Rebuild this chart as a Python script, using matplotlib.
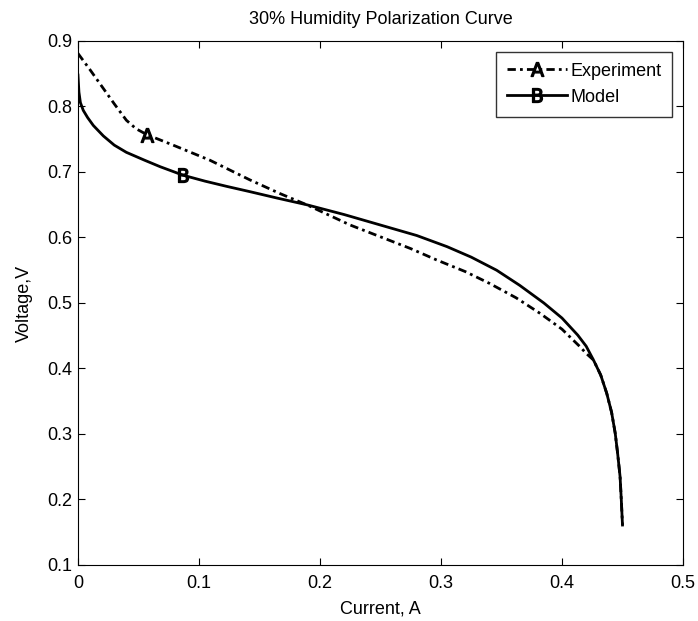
import matplotlib.pyplot as plt

plt.rcParams['font.family'] = ['Liberation Sans', 'DejaVu Sans']

# Experiment data (current A, voltage V)
exp_current = [0, 0.01, 0.02, 0.03, 0.040, 0.048, 0.057, 0.08, 0.109, 0.142, 0.167,
               0.189, 0.225, 0.250, 0.275, 0.296, 0.320, 0.340, 0.362, 0.382, 0.400,
               0.415, 0.420, 0.426, 0.432, 0.437, 0.441, 0.444, 0.446, 0.448, 0.449,
               0.450]
exp_voltage = [0.881, 0.856, 0.830, 0.804, 0.779, 0.766, 0.757, 0.740, 0.718, 0.688, 0.667,
               0.650, 0.619, 0.601, 0.583, 0.566, 0.548, 0.530, 0.508, 0.484, 0.460,
               0.433, 0.423, 0.413, 0.390, 0.362, 0.333, 0.301, 0.270, 0.235, 0.200,
               0.161]

# Model data
model_current = [0, 0.0008, 0.002, 0.0044, 0.008, 0.0127, 0.021, 0.030, 0.040, 0.055,
                 0.068, 0.087, 0.105, 0.123, 0.142, 0.165, 0.189, 0.220, 0.250, 0.280,
                 0.305, 0.325, 0.346, 0.365, 0.385, 0.400, 0.413, 0.420, 0.426, 0.432,
                 0.437, 0.441, 0.444, 0.446, 0.448, 0.449, 0.450]
model_voltage = [0.848, 0.822, 0.806, 0.794, 0.783, 0.771, 0.755, 0.741, 0.730, 0.718,
                 0.708, 0.695, 0.686, 0.678, 0.670, 0.660, 0.650, 0.635, 0.619, 0.603,
                 0.586, 0.570, 0.550, 0.527, 0.500, 0.477, 0.451, 0.434, 0.413, 0.390,
                 0.362, 0.333, 0.301, 0.270, 0.235, 0.200, 0.161]

fig = plt.figure(figsize=(6.98, 6.21), dpi=100)
ax = fig.add_axes([0.1117, 0.0902, 0.8668, 0.8438])

ax.plot(exp_current, exp_voltage, color='black', linewidth=2, dashes=(3, 1.5, 1, 1.5),
        marker=r'$\mathsf{A}$', markersize=10, markevery=[6], label='Experiment')
ax.plot(model_current, model_voltage, color='black', linestyle='-', linewidth=2,
        marker=r'$\mathsf{B}$', markersize=10, markevery=[11], label='Model')

ax.set_xlim(0, 0.5)
ax.set_ylim(0.1, 0.9)
ax.set_xticks([0, 0.1, 0.2, 0.3, 0.4, 0.5])
ax.set_xticklabels(['0', '0.1', '0.2', '0.3', '0.4', '0.5'])
ax.set_yticks([0.1, 0.2, 0.3, 0.4, 0.5, 0.6, 0.7, 0.8, 0.9])
ax.tick_params(direction='in', top=True, right=True, labelsize=13, length=5)
ax.tick_params(axis='x', pad=7)
ax.tick_params(axis='y', pad=4)

ax.set_title('30% Humidity Polarization Curve', fontsize=13, pad=12)
ax.set_xlabel('Current, A', fontsize=13, labelpad=6)
ax.set_ylabel('Voltage,V', fontsize=13, labelpad=10)

leg = ax.legend(loc='upper right', fontsize=13, fancybox=False, edgecolor='black',
                handlelength=3.3, handletextpad=0.2, labelspacing=0.5,
                borderpad=0.6, borderaxespad=0.6)
leg.get_frame().set_linewidth(1)

plt.savefig('out.png', dpi=100)
